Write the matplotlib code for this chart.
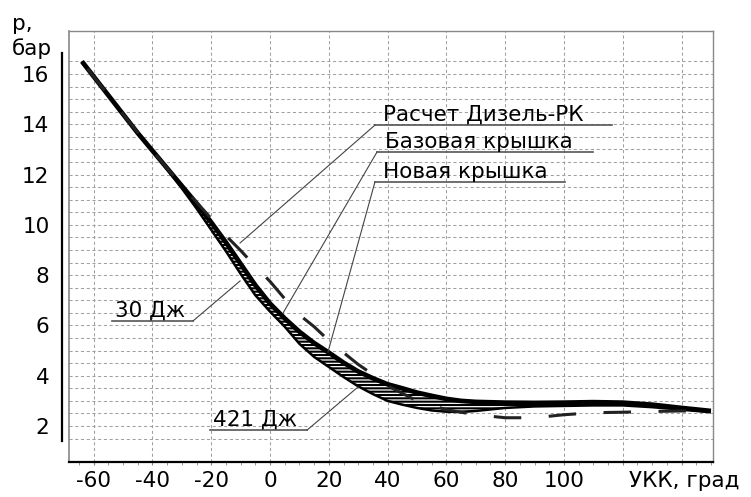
import numpy as np
import matplotlib
matplotlib.use("Agg")
from matplotlib import pyplot as plt
from matplotlib.ticker import MultipleLocator

# угол поворота коленвала (УКК), град
ukk = [-64, -60, -55, -50, -45, -40, -35, -30, -25, -20, -15, -10, -5, 0, 5, 10, 15, 20,
       25, 30, 35, 40, 45, 50, 55, 60, 65, 70, 80, 90, 100, 110, 120, 130, 140, 150]
# давление, бар - базовая крышка
p_base = [16.5, 15.9, 15.15, 14.4, 13.65, 12.95, 12.25, 11.55, 10.85, 10.1, 9.3, 8.45, 7.6, 6.87, 6.28, 5.75,
          5.3, 4.92, 4.52, 4.17, 3.9, 3.66, 3.5, 3.33, 3.2, 3.08, 3.0, 2.96, 2.93, 2.92, 2.93, 2.95,
          2.93, 2.85, 2.72, 2.6]
# давление, бар - новая крышка
p_new = [16.5, 15.9, 15.15, 14.4, 13.65, 12.95, 12.2, 11.45, 10.65, 9.8, 8.95, 8.05, 7.2, 6.55, 5.95, 5.27,
         4.75, 4.35, 3.95, 3.58, 3.27, 3.0, 2.85, 2.72, 2.62, 2.57, 2.56, 2.6, 2.72, 2.78, 2.8, 2.82,
         2.82, 2.75, 2.65, 2.55]
# расчет Дизель-РК
ukk_calc = [-64, -60, -50, -40, -30, -25, -20, -15, -10, -5, 0, 5, 10, 15, 20, 25, 30, 35, 40,
            50, 60, 70, 80, 90, 100, 110, 120, 130, 140, 150]
p_calc = [16.5, 15.9, 14.4, 12.95, 11.55, 10.9, 10.25, 9.57, 8.98, 8.35, 7.75, 7.06, 6.42, 5.95, 5.4,
          4.92, 4.45, 4.05, 3.6, 3.0, 2.65, 2.45, 2.33, 2.33, 2.45, 2.53, 2.55, 2.58, 2.6, 2.6]

x_ticks = [-60, -40, -20, 0, 20, 40, 60, 80, 100, 120, 140]
x_labels = ['-60', '-40', '-20', '0', '20', '40', '60', '80', '100', '', '']
y_ticks = [2, 4, 6, 8, 10, 12, 14, 16]
y_grid = np.arange(1.5, 16.51, 0.5)

plt.rcParams['font.family'] = ['DejaVu Sans']
plt.rcParams['hatch.linewidth'] = 1.5
FS = 15.5

fig = plt.figure(figsize=(7.51, 4.97), dpi=100)
ax = fig.add_axes([69/751, 35/497, 644/751, 431/497])

# рамка и смещенная левая ось
for s in ['top', 'right']:
    ax.spines[s].set_color('#888888')
    ax.spines[s].set_linewidth(1)
ax.spines['bottom'].set_color('black')
ax.spines['bottom'].set_linewidth(1.6)
ax.spines['left'].set_position(('outward', 5))
ax.spines['left'].set_bounds(1.4, 16.85)
ax.spines['left'].set_linewidth(1.6)
ax.plot([0, 0], [0, 1], transform=ax.transAxes, color='#888888', lw=1.2, clip_on=False)

ax.set_xlim(-68.4, 150.7)
ax.set_ylim(0.57, 17.71)

# сетка
grid_kw = dict(color='#a0a0a0', lw=0.75, ls=(0, (3, 2.5)), zorder=0)
ax.hlines(y_grid, -68.4, 150.7, **grid_kw)
ax.vlines(x_ticks, 0.57, 17.71, **grid_kw)

# заштрихованная область между кривыми
ax.fill_between(ukk, p_new, p_base, facecolor='white', edgecolor='black', hatch='-----',
                linewidth=0, zorder=2)
ax.plot(ukk, p_new, color='black', lw=1.8, zorder=3, solid_capstyle='butt')
ax.plot(ukk, p_base, color='black', lw=3.4, zorder=3, solid_capstyle='butt')
ax.plot(ukk_calc, p_calc, color='#222222', lw=2.2, ls=(15, (9, 9)), zorder=4,
        dash_capstyle='butt')

# подписи осей
ax.set_xticks(x_ticks)
ax.set_xticklabels(x_labels)
ax.xaxis.set_minor_locator(MultipleLocator(5))
ax.tick_params(axis='x', which='both', direction='out', length=2.5, color='#888888', pad=4,
               labelsize=FS)
ax.set_yticks(y_ticks)
ax.set_yticklabels([str(v) for v in y_ticks])
ax.tick_params(axis='y', length=0, pad=9, labelsize=FS)

fig.text(12/751, 1 - 30/497, 'р,', fontsize=FS, va='baseline')
fig.text(12/751, 1 - 55/497, 'бар', fontsize=FS, va='baseline')
fig.text(629/751, 1 - 487/497, 'УКК, град', fontsize=FS, va='baseline')


def callout(text, ux0, ux1, uy, tx, ty, right=False, dx=6):
    ax.plot([ux0, ux1], [uy, uy], color='#555555', lw=1.2, zorder=5, clip_on=False)
    sx = ux1 if right else ux0
    ax.plot([sx, tx], [uy, ty], color='#444444', lw=0.8, zorder=5)
    ax.annotate(text, (ux0, uy), xytext=(dx, 3), textcoords='offset points',
                ha='left', va='baseline', fontsize=FS, zorder=6)


callout('Расчет Дизель-РК', 35.7, 116.3, 13.97, -10.2, 9.28)
callout('Базовая крышка', 36.4, 109.9, 12.9, 4.4, 6.49)
callout('Новая крышка', 35.7, 100.3, 11.71, 19.7, 4.94)
callout('30 Дж', -53.7, -26.2, 6.18, -10.2, 7.77, right=True, dx=2)
callout('421 Дж', -20.4, 12.6, 1.84, 29.9, 3.55, right=True, dx=2)

fig.savefig('out.png', dpi=100)
